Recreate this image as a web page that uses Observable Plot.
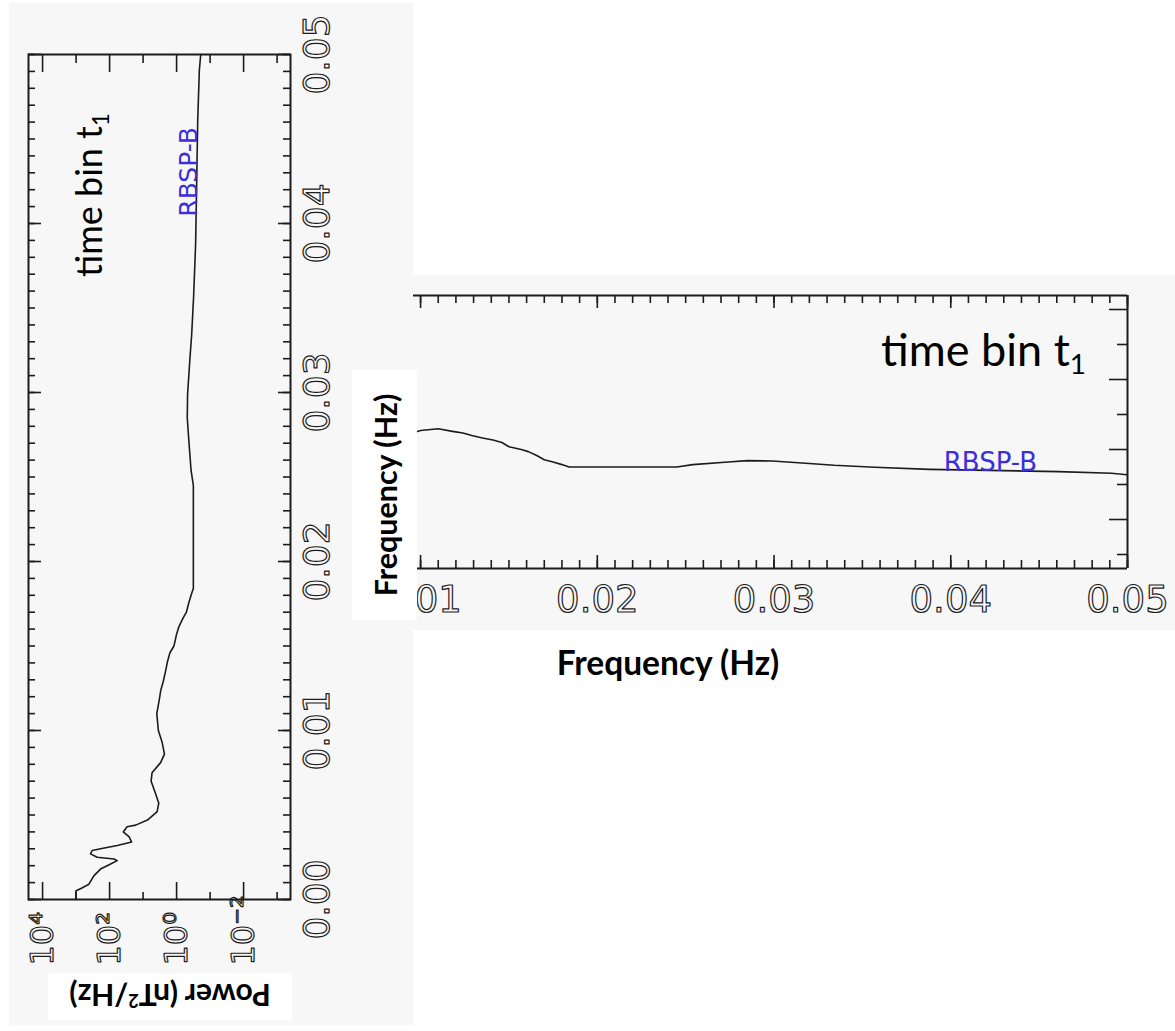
<!DOCTYPE html>
<html><head><meta charset="utf-8">
<script src="https://cdn.jsdelivr.net/npm/d3@7"></script>
<script src="https://cdn.jsdelivr.net/npm/@observablehq/plot@0.6"></script>
<style>
html, body { margin:0; padding:0; background:#fff; }
body { width:1175px; height:1031px; position:relative; overflow:hidden; }
.bg { position:absolute; background:#f7f7f7; }
.abs { position:absolute; }
.cal { font-family: Lato, "Open Sans", sans-serif; color:#000; white-space:nowrap; line-height:1; }
.cal sub { font-size:0.62em; vertical-align:-0.3em; line-height:0; }
.bold { font-family: Lato, "Open Sans", sans-serif; font-weight:700; color:#000; white-space:nowrap; }
.box { position:absolute; background:#fff; display:flex; align-items:center; justify-content:center; }
.bold sup { font-size:0.6em; vertical-align:0.55em; line-height:0; }
svg { overflow: visible; }
</style></head>
<body>
<div class="bg" style="left:9px;top:3px;width:404px;height:1022px"></div>
<div class="bg" style="left:413px;top:275px;width:762px;height:355px"></div>
<div id="leftPlot" class="abs" style="transform-origin:0 0;transform:rotate(-90deg)"></div>
<div id="rightPlot" class="abs" style="left:413px;top:275px"></div>
<div id="tbLeft" class="abs cal" style="font-size:36px;left:70px;top:277px;transform-origin:0 0;transform:rotate(-90deg)"></div>
<div id="tbRight" class="abs cal" style="font-size:45px;left:881px;top:327px"></div>
<div class="box" style="left:352px;top:620px;width:250px;height:65px;transform-origin:0 0;transform:rotate(-90deg)"><span id="yLabRot" class="bold" style="font-size:30.5px"></span></div>
<div class="box" style="left:48px;top:973px;width:244px;height:47px;transform:rotate(180deg)"><span id="powLab" class="bold" style="font-size:30px"></span></div>
<div class="abs bold" id="xLab" style="left:468px;width:400px;text-align:center;top:646px;font-size:33.5px;line-height:1"></div>
<script>
// ---- data ----
const freq = [0, 0.0005, 0.0007, 0.0009, 0.0014, 0.0018, 0.0021, 0.0023, 0.0024, 0.0025,
  0.0027, 0.0029, 0.0030, 0.0032, 0.0034, 0.0037, 0.0040, 0.0043, 0.0044, 0.0047,
  0.0052, 0.0057, 0.0063, 0.0070, 0.0075, 0.0081, 0.0086, 0.0093, 0.0100, 0.0110,
  0.0118, 0.0124, 0.0129, 0.0135, 0.0141, 0.0146, 0.0150, 0.0157, 0.0161, 0.0166,
  0.0170, 0.0175, 0.0180, 0.0184, 0.0245, 0.0254, 0.0274, 0.0285, 0.0299, 0.0320,
  0.0334, 0.0357, 0.0388, 0.0461, 0.0491, 0.0500];
const power = [1020, 1020, 646, 417, 295, 186, 93, 59, 74, 234,
  372, 331, 186, 59, 22, 26, 39, 30, 16.6, 7.4,
  3.8, 3.4, 4.3, 5.75, 5.4, 3.0, 2.3, 2.7, 3.5, 3.9,
  3.3, 2.95, 2.5, 2.14, 1.86, 1.58, 1.2, 1.0, 0.87, 0.66,
  0.51, 0.44, 0.37, 0.316, 0.316, 0.37, 0.44, 0.48, 0.47, 0.40,
  0.355, 0.31, 0.27, 0.234, 0.209, 0.19];
const freqMajorTicks = [0, 0.01, 0.02, 0.03, 0.04, 0.05];
const freqTickLabels = ["0.00", "0.01", "0.02", "0.03", "0.04", "0.05"];
const freqMinorTicks = d3.range(0, 51).map(i => i / 1000);
const powerMajorTicks = [1e4, 1e2, 1e0, 1e-2];
const powerTickLabels = ["10\u2074", "10\u00b2", "10\u2070", "10\u207b\u00b2"];
const powerMinorTicks = [1e3, 1e1, 1e-1, 1e-3];
const seriesLabel = "RBSP-B";
const seriesLabelFreq = 0.0404;
const seriesLabelPower = 0.24;
const annotationText = "time bin t";
const annotationSub = "1";
const xTitle = "Frequency (Hz)";
const yTitle = "Power (nT\u00b2/Hz)";

const ink = "#1c1c1c";
const blue = "#3b2fdc";
const table = freq.map((f, i) => ({f, p: power[i]}));

// ---- left panel: the original plot, turned a quarter turn ----
const W1 = 845, H1 = 262, m1 = {l: 70, r: 20, t: 10, b: 70};
const leftPlot = Plot.plot({
  width: W1 + m1.l + m1.r, height: H1 + m1.t + m1.b,
  marginLeft: m1.l, marginRight: m1.r, marginTop: m1.t, marginBottom: m1.b,
  style: {background: "transparent", overflow: "visible"},
  x: {domain: [0, 0.05], axis: null},
  y: {type: "log", domain: [10 ** -3.4, 10 ** 4.42], axis: null},
  marks: [
    Plot.ruleX(freqMinorTicks, {insetTop: H1 - 7, stroke: ink, strokeWidth: 1.6}),
    Plot.ruleX(freqMinorTicks, {insetBottom: H1 - 7, stroke: ink, strokeWidth: 1.6}),
    Plot.ruleX(freqMajorTicks, {insetTop: H1 - 12, stroke: ink, strokeWidth: 1.6}),
    Plot.ruleX(freqMajorTicks, {insetBottom: H1 - 13, stroke: ink, strokeWidth: 1.6}),
    Plot.ruleY(powerMajorTicks, {insetRight: W1 - 18, stroke: ink, strokeWidth: 1.6}),
    Plot.ruleY(powerMajorTicks, {insetLeft: W1 - 17, stroke: ink, strokeWidth: 1.6}),
    Plot.ruleY(powerMinorTicks, {insetRight: W1 - 8, stroke: ink, strokeWidth: 1.6}),
    Plot.ruleY(powerMinorTicks, {insetLeft: W1 - 8, stroke: ink, strokeWidth: 1.6}),
    Plot.frame({stroke: ink, strokeWidth: 2}),
    Plot.line(table, {x: "f", y: "p", stroke: ink, strokeWidth: 1.6}),
    Plot.text(freqMajorTicks, {x: d => d, frameAnchor: "bottom", lineAnchor: "top", dy: 13,
      text: (d, i) => freqTickLabels[i], fontSize: 36, fontFamily: "DejaVu Sans",
      fill: "none", stroke: ink, strokeWidth: 1.2}),
    Plot.text(powerMajorTicks, {y: d => d, frameAnchor: "left", textAnchor: "start", dx: -66,
      text: (d, i) => powerTickLabels[i], fontSize: 32, fontFamily: "DejaVu Sans",
      fill: "none", stroke: ink, strokeWidth: 1.2}),
    Plot.text([seriesLabel], {x: () => seriesLabelFreq, y: () => seriesLabelPower, text: d => d,
      textAnchor: "start", lineAnchor: "bottom", fill: blue, fontSize: 25, fontFamily: "DejaVu Sans"})
  ]
});
const lp = document.getElementById("leftPlot");
lp.style.left = (28 - m1.t) + "px";
lp.style.top = (900 + m1.l) + "px";
lp.appendChild(leftPlot);

// ---- right panel: the same spectrum, cropped at 0.0096 Hz ----
const W2 = 714, H2 = 273;
const xDom2 = [0.0096, 0.05];
const yDom2 = [10 ** -3.4, 10 ** 4.4];
const inX = d => d >= xDom2[0] && d <= xDom2[1];
const rightPlot = Plot.plot({
  width: 762, height: 355,
  marginLeft: 0, marginRight: 48, marginTop: 20, marginBottom: 62,
  style: {background: "transparent", overflow: "visible"},
  x: {domain: xDom2, axis: null},
  y: {type: "log", domain: yDom2, axis: null},
  marks: [
    Plot.ruleX(freqMinorTicks.filter(inX), {insetTop: H2 - 8, stroke: ink, strokeWidth: 1.6}),
    Plot.ruleX(freqMinorTicks.filter(inX), {insetBottom: H2 - 8, stroke: ink, strokeWidth: 1.6}),
    Plot.ruleX(freqMajorTicks.filter(inX), {insetTop: H2 - 13, stroke: ink, strokeWidth: 1.6}),
    Plot.ruleX(freqMajorTicks.filter(inX), {insetBottom: H2 - 13, stroke: ink, strokeWidth: 1.6}),
    Plot.ruleY(powerMajorTicks, {insetLeft: W2 - 18, stroke: ink, strokeWidth: 1.6}),
    Plot.ruleY(powerMinorTicks, {insetLeft: W2 - 10, stroke: ink, strokeWidth: 1.6}),
    Plot.ruleY([yDom2[1]], {stroke: ink, strokeWidth: 2}),
    Plot.ruleY([yDom2[0]], {stroke: ink, strokeWidth: 2}),
    Plot.ruleX([xDom2[1]], {stroke: ink, strokeWidth: 2}),
    Plot.line(table, {x: "f", y: "p", stroke: ink, strokeWidth: 1.6, clip: true}),
    Plot.text(freqMajorTicks.slice(1), {x: d => d, frameAnchor: "bottom", lineAnchor: "top", dy: 17,
      text: (d, i) => freqTickLabels[i + 1], fontSize: 37, fontFamily: "DejaVu Sans",
      fill: "none", stroke: ink, strokeWidth: 1.2}),
    Plot.text([seriesLabel], {x: () => seriesLabelFreq - 0.0008, y: () => seriesLabelPower, text: d => d,
      textAnchor: "start", lineAnchor: "bottom", fill: blue, fontSize: 26, fontFamily: "DejaVu Sans"})
  ]
});
document.getElementById("rightPlot").appendChild(rightPlot);

// ---- annotations and titles ----
for (const id of ["tbLeft", "tbRight"]) {
  const el = document.getElementById(id);
  el.textContent = annotationText;
  const s = document.createElement("sub");
  s.textContent = annotationSub;
  el.appendChild(s);
}
document.getElementById("yLabRot").textContent = xTitle;
document.getElementById("xLab").textContent = xTitle;
const pl = document.getElementById("powLab");
pl.innerHTML = "";
pl.append("Power (nT");
const sup = document.createElement("sup"); sup.textContent = "2"; pl.appendChild(sup);
pl.append("/Hz)");
</script>
</body></html>
